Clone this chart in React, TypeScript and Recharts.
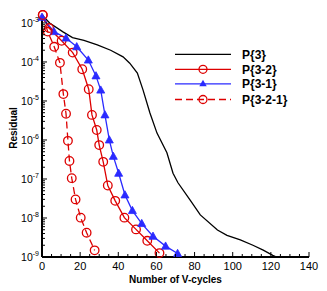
import React from 'react';
import { LineChart, Line, XAxis, YAxis, Legend, Label } from 'recharts';

// ---- data ----
const p3X = [0, 4, 11, 16, 22, 29, 36, 42.5, 46, 50, 53, 56.6, 60.3, 65.5, 68.7, 71.3, 77.6, 83, 92, 97, 104, 110.6, 116, 121, 123];
const p3Y = [1.6e-3, 1.0e-3, 5.9e-4, 4.2e-4, 3.6e-4, 2.75e-4, 2.0e-4, 1.35e-4, 9.3e-5, 5.2e-5, 1.9e-5, 4.9e-6, 1.5e-6, 4.7e-7, 1.4e-7, 8e-8, 2.9e-8, 1.2e-8, 4.9e-9, 3.6e-9, 2.75e-9, 2.0e-9, 1.5e-9, 1.1e-9, 1.0e-9];

const p32X = [0.4, 3.7, 10.3, 16.1, 21.1, 24.5, 26.2, 28.7, 30.0, 32.1, 34.5, 38.4, 43.2, 49.3, 55.2, 61.6];
const p32Y = [1.6e-3, 7.4e-4, 3.5e-4, 1.74e-4, 6.5e-5, 2.0e-5, 4.4e-6, 1.8e-6, 7.4e-7, 2.75e-7, 6.8e-8, 2.75e-8, 1.02e-8, 5.1e-9, 2.6e-9, 1.26e-9];

const p31X = [0, 6.3, 12.6, 18.2, 24.3, 28.3, 30.8, 33.0, 35.3, 37.4, 40.2, 43.5, 47.4, 52.3, 58.2, 64.8, 71.1];
const p31Y = [1.4e-3, 6.0e-4, 4.1e-4, 2.45e-4, 1.12e-4, 4.4e-5, 1.9e-5, 4.4e-6, 1.0e-6, 3.8e-7, 1.4e-7, 3.9e-8, 1.55e-8, 7.2e-9, 3.4e-9, 1.9e-9, 1.23e-9];

const p321X = [0.4, 3.0, 6.4, 9.4, 11.2, 12.6, 13.6, 14.4, 15.6, 17.6, 20.3, 23.4, 27.6];
const p321Y = [1.6e-3, 6.0e-4, 2.45e-4, 9.5e-5, 1.5e-5, 4.7e-6, 9.5e-7, 2.9e-7, 1.05e-7, 3.0e-8, 1.02e-8, 4.2e-9, 1.48e-9];

const seriesNames = ['P{3}', 'P{3-2}', 'P{3-1}', 'P{3-2-1}'];

const xMajorTicks = [0, 20, 40, 60, 80, 100, 120, 140];
const xMinorTicks = [5, 10, 15, 25, 30, 35, 45, 50, 55, 65, 70, 75, 85, 90, 95, 105, 110, 115, 125, 130, 135];
const yMajorExps = [-9, -8, -7, -6, -5, -4, -3];
const yMinorMults = [2, 3, 4, 5, 6, 7, 8, 9];

const zip = (xs: number[], ys: number[]) => xs.map((x, i) => ({ x, y: ys[i] }));
const p3Data = zip(p3X, p3Y);
const p32Data = zip(p32X, p32Y);
const p31Data = zip(p31X, p31Y);
const p321Data = zip(p321X, p321Y);

const yMajorTicks = yMajorExps.map((e) => Math.pow(10, e));
const yMinorTicks: number[] = [];
yMajorExps.slice(0, -1).forEach((e) => yMinorMults.forEach((m) => yMinorTicks.push(m * Math.pow(10, e))));
const yTicks = [...yMajorTicks, ...yMinorTicks].sort((a, b) => a - b);
const xTicks = [...xMajorTicks, ...xMinorTicks].sort((a, b) => a - b);

const FONT = '"Liberation Sans", Arial, Helvetica, sans-serif';
const RED = '#dd0000';
const BLUE = '#2a2aff';

const XTick = (props: any) => {
  const { x, y, payload } = props;
  const v = payload.value;
  const major = xMajorTicks.includes(v);
  return (
    <g>
      <line x1={x} x2={x} y1={y} y2={y - (major ? 5 : 3)} stroke="#000" strokeWidth={1} />
      {major && (
        <text x={x} y={y + 13} textAnchor="middle" fontSize={11} fontFamily={FONT} fill="#000">
          {v}
        </text>
      )}
    </g>
  );
};

const YTick = (props: any) => {
  const { x, y, payload } = props;
  const v = payload.value;
  const exp = Math.round(Math.log10(v));
  const major = Math.abs(v - Math.pow(10, exp)) < v * 1e-6;
  return (
    <g>
      <line x1={x} x2={x + (major ? 5 : 3)} y1={y} y2={y} stroke="#000" strokeWidth={1} />
      {major && (
        <text x={x - 3} y={y + 4} textAnchor="end" fontSize={10.5} fontFamily={FONT} fill="#000">
          10
          <tspan dy={-5} fontSize={7}>{exp}</tspan>
        </text>
      )}
    </g>
  );
};

const Triangle = (props: any) => {
  const { cx, cy, index } = props;
  if (cx == null || cy == null) return <g key={index} />;
  return (
    <path key={index} d={`M${cx},${cy - 4.2} L${cx + 4},${cy + 3} L${cx - 4},${cy + 3} Z`} fill={BLUE} stroke={BLUE} strokeWidth={0.8} />
  );
};

const renderLegend = () => {
  const rows = [54.3, 69.3, 83.8, 99.5];
  const x1 = 175;
  const x2 = 231;
  const mx = 203;
  const tx = 242;
  return (
    <svg width={327} height={291} style={{ position: 'absolute', left: 0, top: 0 }}>
      <line x1={x1} x2={x2} y1={rows[0]} y2={rows[0]} stroke="#000" strokeWidth={1.3} />
      <line x1={x1} x2={x2} y1={rows[1]} y2={rows[1]} stroke={RED} strokeWidth={1.3} />
      <circle cx={mx} cy={rows[1]} r={4} fill="none" stroke={RED} strokeWidth={1.3} />
      <line x1={x1} x2={x2} y1={rows[2]} y2={rows[2]} stroke={BLUE} strokeWidth={1.3} />
      <path d={`M${mx},${rows[2] - 4} L${mx + 3.7},${rows[2] + 2.5} L${mx - 3.7},${rows[2] + 2.5} Z`} fill={BLUE} />
      <line x1={x1} x2={x2} y1={rows[3]} y2={rows[3]} stroke={RED} strokeWidth={1.3} strokeDasharray="7 4" />
      <circle cx={mx} cy={rows[3]} r={4} fill="none" stroke={RED} strokeWidth={1.3} />
      {seriesNames.map((n, i) => (
        <text key={n} x={tx} y={rows[i] + 4.3} fontSize={12} fontWeight="bold" fontFamily={FONT} fill="#000">
          {n}
        </text>
      ))}
    </svg>
  );
};

export default function App() {
  return (
    <div style={{ position: 'absolute', left: 0, top: 0, width: 327, height: 291, background: '#fff' }}>
      <LineChart width={327} height={291} margin={{ top: 15, right: 18, left: 0, bottom: 0 }}>
        <XAxis
          xAxisId="b"
          type="number"
          dataKey="x"
          domain={[0, 140]}
          ticks={xTicks}
          interval={0}
          tickSize={0}
          tickMargin={0}
          height={34}
          axisLine={{ stroke: '#000', strokeWidth: 2 }}
          tickLine={false}
          tick={<XTick />}
        >
          <Label
            content={(p: any) => {
              const vb = p.viewBox || { x: 42, y: 257, width: 267, height: 34 };
              return (
                <text x={vb.x + vb.width / 2} y={vb.y + 26} textAnchor="middle" fontSize={10} fontWeight="bold" fontFamily={FONT} fill="#000">
                  Number of V-cycles
                </text>
              );
            }}
          />
        </XAxis>
        <XAxis
          xAxisId="t"
          orientation="top"
          type="number"
          domain={[0, 140]}
          height={0}
          tick={false}
          tickLine={false}
          axisLine={{ stroke: '#000', strokeWidth: 2 }}
        />
        <YAxis
          yAxisId="l"
          type="number"
          scale="log"
          domain={[1e-9, 1.6e-3]}
          ticks={yTicks}
          interval={0}
          tickSize={0}
          tickMargin={0}
          width={42}
          axisLine={{ stroke: '#000', strokeWidth: 2 }}
          tickLine={false}
          tick={<YTick />}
        >
          <Label
            content={(p: any) => {
              const vb = p.viewBox || { x: 0, y: 15, width: 42, height: 242 };
              const cx = 13.5;
              const cy = vb.y + vb.height / 2 - 8;
              return (
                <text x={cx} y={cy} transform={`rotate(-90 ${cx} ${cy})`} textAnchor="middle" dominantBaseline="central" fontSize={10} fontWeight="bold" fontFamily={FONT} fill="#000">
                  Residual
                </text>
              );
            }}
          />
        </YAxis>
        <YAxis
          yAxisId="r"
          orientation="right"
          type="number"
          domain={[0, 1]}
          width={0}
          tick={false}
          tickLine={false}
          axisLine={{ stroke: '#000', strokeWidth: 2 }}
        />
        <Legend layout="vertical" align="center" verticalAlign="middle" content={renderLegend} wrapperStyle={{ position: 'absolute', left: 0, top: 0, width: 327, height: 291, pointerEvents: 'none' }} />
        <Line xAxisId="b" yAxisId="l" data={p3Data} dataKey="y" name={seriesNames[0]} type="linear" stroke="#000" strokeWidth={1.3} dot={false} isAnimationActive={false} />
        <Line xAxisId="b" yAxisId="l" data={p32Data} dataKey="y" name={seriesNames[1]} type="linear" stroke={RED} strokeWidth={1.3} dot={{ r: 4.3, fill: 'none', stroke: RED, strokeWidth: 1.3 }} isAnimationActive={false} />
        <Line xAxisId="b" yAxisId="l" data={p31Data} dataKey="y" name={seriesNames[2]} type="linear" stroke={BLUE} strokeWidth={1.3} dot={<Triangle />} isAnimationActive={false} />
        <Line xAxisId="b" yAxisId="l" data={p321Data} dataKey="y" name={seriesNames[3]} type="linear" stroke={RED} strokeWidth={1.3} strokeDasharray="7 4" dot={{ r: 4.3, fill: 'none', stroke: RED, strokeWidth: 1.3, strokeDasharray: '' }} isAnimationActive={false} />
      </LineChart>
    </div>
  );
}
